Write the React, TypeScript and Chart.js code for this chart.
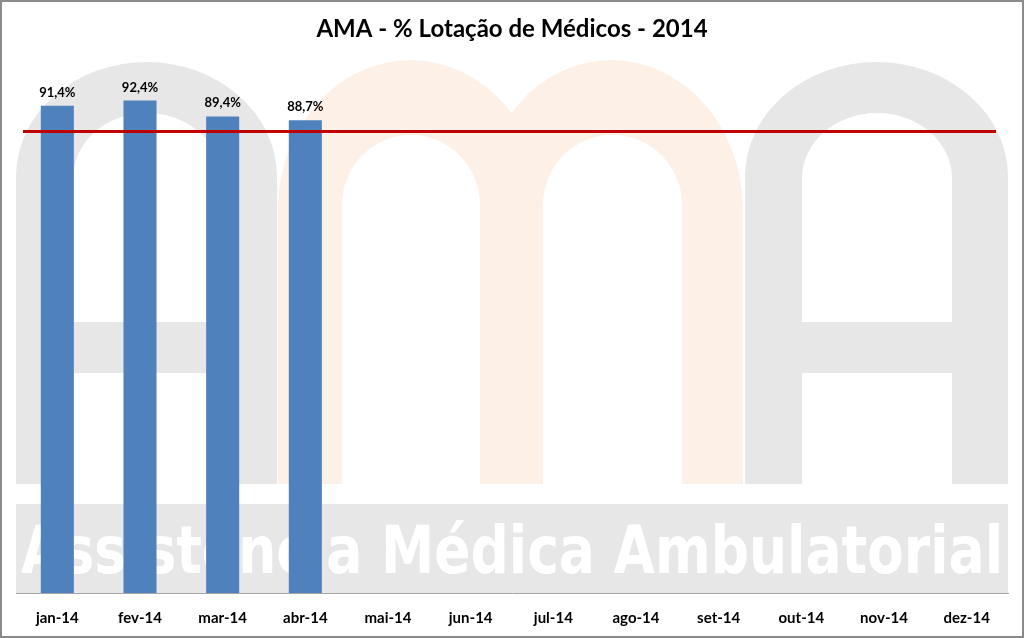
import React, { useEffect, useRef } from 'react';
import { Chart, registerables } from 'chart.js';

Chart.register(...registerables);

const TITLE = 'AMA - % Lotação de Médicos - 2014';
const MONTHS = ['jan-14', 'fev-14', 'mar-14', 'abr-14', 'mai-14', 'jun-14', 'jul-14', 'ago-14', 'set-14', 'out-14', 'nov-14', 'dez-14'];
const LOTACAO: (number | null)[] = [91.4, 92.4, 89.4, 88.7, null, null, null, null, null, null, null, null];
const META = 86.6;
const Y_MIN = 0;
const Y_MAX = 100;
const WATERMARK_TEXT = 'Assistência Médica Ambulatorial';

const BAR_COLOR = '#4f81bd';
const META_COLOR = '#c00000';
const GREY = '#e7e7e7';
const ORANGE = '#fdf1e7';
const FONT = 'Lato, "Open Sans", sans-serif';

function arch(ctx: CanvasRenderingContext2D, x0: number, x1: number, top: number, bottom: number, ry: number, color: string) {
  const cx = (x0 + x1) / 2;
  const rx = (x1 - x0) / 2;
  ctx.beginPath();
  ctx.moveTo(x0, bottom);
  ctx.lineTo(x0, top + ry);
  ctx.ellipse(cx, top + ry, rx, ry, 0, Math.PI, 2 * Math.PI);
  ctx.lineTo(x1, bottom);
  ctx.closePath();
  ctx.fillStyle = color;
  ctx.fill();
}

const backgroundPlugin = {
  id: 'bgWatermark',
  beforeDraw(chart: any) {
    const { ctx, width, height, chartArea } = chart;
    ctx.save();
    ctx.fillStyle = '#ffffff';
    ctx.fillRect(0, 0, width, height);
    const L = chartArea.left;
    const R = chartArea.right;
    const B = chartArea.bottom;
    const lb = B - 109; // letters bottom
    // left A
    arch(ctx, L, L + 261, 62, lb, 115, GREY);
    arch(ctx, L + 57, L + 205, 113, lb, 65, '#ffffff');
    ctx.fillStyle = GREY;
    ctx.fillRect(L + 57, 322, 148, 51);
    // orange m
    arch(ctx, 278, 543, 60, lb, 150, ORANGE);
    arch(ctx, 480, 743, 60, lb, 150, ORANGE);
    arch(ctx, 342, 480, 135, lb, 70, '#ffffff');
    arch(ctx, 543, 682, 135, lb, 70, '#ffffff');
    // right A
    arch(ctx, R - 263, R, 62, lb, 115, GREY);
    arch(ctx, R - 206, R - 56, 113, lb, 65, '#ffffff');
    ctx.fillStyle = GREY;
    ctx.fillRect(R - 206, 322, 150, 51);
    // band
    ctx.fillStyle = GREY;
    ctx.fillRect(L, B - 89, R - L, 89);
    ctx.fillStyle = '#ffffff';
    ctx.font = 'bold 66px "Liberation Sans Narrow", "DejaVu Sans Condensed", "Open Sans", sans-serif';
    ctx.textAlign = 'left';
    ctx.textBaseline = 'alphabetic';
    ctx.fillText(WATERMARK_TEXT, L + 5, B - 20, R - L - 10);
    ctx.restore();
  },
  afterDatasetsDraw(chart: any) {
    const { ctx, chartArea, scales } = chart;
    const y = scales.y.getPixelForValue(META);
    ctx.save();
    ctx.strokeStyle = META_COLOR;
    ctx.lineWidth = 3;
    ctx.beginPath();
    ctx.moveTo(chartArea.left + 7, y);
    ctx.lineTo(chartArea.right - 12, y);
    ctx.stroke();
    // data labels
    const meta = chart.getDatasetMeta(0);
    ctx.fillStyle = '#000000';
    ctx.font = `bold 13px ${FONT}`;
    ctx.textAlign = 'center';
    ctx.textBaseline = 'alphabetic';
    meta.data.forEach((el: any, i: number) => {
      const v = LOTACAO[i];
      if (v == null) return;
      ctx.fillText(v.toFixed(1).replace('.', ',') + '%', el.x, el.y - 9);
    });
    ctx.restore();
  },
  afterDraw(chart: any) {
    const { ctx, width, height } = chart;
    ctx.save();
    ctx.fillStyle = '#000000';
    ctx.font = `bold 24px ${FONT}`;
    ctx.textAlign = 'center';
    ctx.textBaseline = 'middle';
    ctx.fillText(TITLE, width / 2, 29);
    ctx.strokeStyle = '#8a8a8a';
    ctx.lineWidth = 2;
    ctx.strokeRect(1, 1, width - 2, height - 2);
    ctx.restore();
  },
};

export default function App() {
  const ref = useRef<HTMLCanvasElement>(null);
  useEffect(() => {
    if (!ref.current) return;
    const chart = new Chart(ref.current, {
      type: 'bar',
      data: {
        labels: MONTHS,
        datasets: [
          {
            label: '% Lotação',
            data: LOTACAO as any,
            backgroundColor: BAR_COLOR,
            categoryPercentage: 1,
            barPercentage: 0.4,
          },
        ],
      },
      options: {
        animation: false,
        responsive: false,
        layout: { padding: { left: 16, right: 16, top: 60, bottom: 0 } },
        plugins: {
          legend: { display: false },
          title: { display: false },
          tooltip: { enabled: false },
        },
        scales: {
          x: {
            grid: { display: true, color: 'transparent', drawTicks: false },
            border: { display: true, color: '#a6a6a6', width: 1 },
            ticks: {
              color: '#000000',
              font: { family: FONT, size: 15, weight: 'bold' },
              padding: 16,
              maxRotation: 0,
              autoSkip: false,
            },
            afterFit(scale: any) {
              scale.height = 45;
            },
          },
          y: {
            display: false,
            min: Y_MIN,
            max: Y_MAX,
          },
        },
      },
      plugins: [backgroundPlugin],
    });
    return () => chart.destroy();
  }, []);
  return (
    <div style={{ position: 'absolute', left: 0, top: 0, width: 1024, height: 638 }}>
      <canvas ref={ref} width={1024} height={638} style={{ display: 'block' }} />
    </div>
  );
}
